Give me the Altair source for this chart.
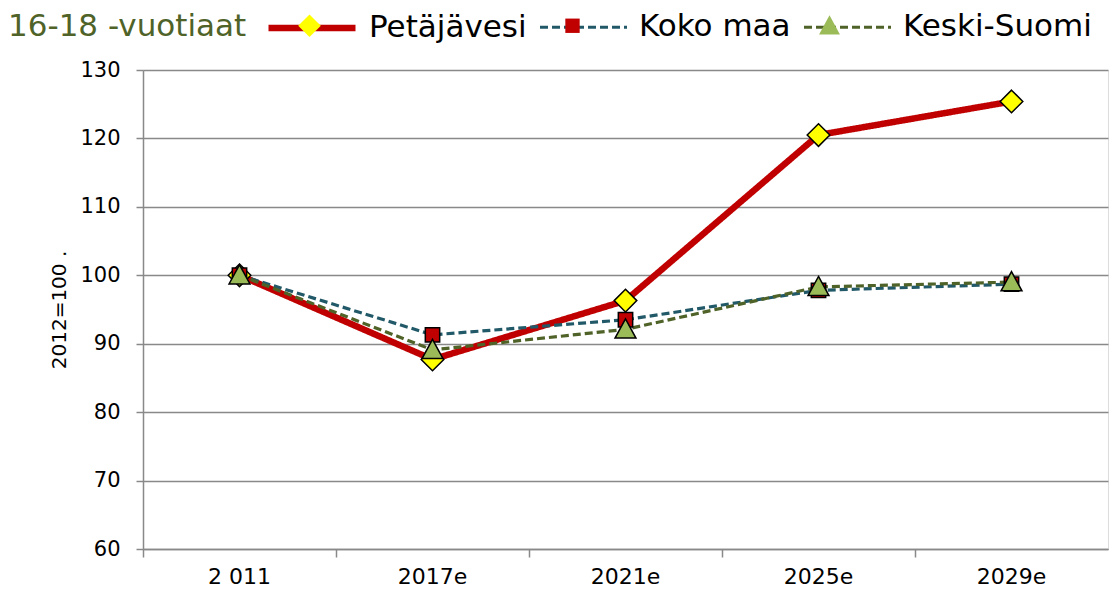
import altair as alt
import pandas as pd

# ---- data ----
vuodet = ["2 011", "2017e", "2021e", "2025e", "2029e"]
sarjat = ["Petäjävesi", "Koko maa", "Keski-Suomi"]
petajavesi = [100.0, 87.7, 96.3, 120.5, 125.4]
koko_maa = [100.0, 91.3, 93.5, 97.8, 98.7]
keski_suomi = [100.0, 89.1, 92.1, 98.3, 99.0]
y_ticks = [60, 70, 80, 90, 100, 110, 120, 130]

# ---- styles ----
viivavarit = ["#c00000", "#215968", "#4f6228", "#000000"]
taytot = ["#ffff00", "#c00000", "#9bbb59"]
viivaleveydet = [6.5, 3.2, 3.2, 1]
katkot = [[1, 0], [8, 4], [8, 4], [1, 0]]
muodot = [
    "M0,-0.26L0.26,0L0,0.26L-0.26,0Z",
    "M-0.165,-0.165L0.165,-0.165L0.165,0.165L-0.165,0.165Z",
    "M0,-0.24L0.24,0.2L-0.24,0.2Z",
]

rows = []
for s, vals in zip(sarjat, [petajavesi, koko_maa, keski_suomi]):
    for v, y in zip(vuodet, vals):
        rows.append({"vuosi": v, "sarja": s, "sarja2": s, "arvo": y})
df = pd.DataFrame(rows)

# line scales get an extra unused domain entry so that their legend stays
# separate from the marker legend (which is drawn on top of it)
viiva_domain = sarjat + ["_"]

FONT = "DejaVu Sans"
SYM = 7569
LX, LY = -135, -89

common_legend = dict(
    orient="none", legendX=LX, legendY=LY, direction="horizontal",
    title="16-18 -vuotiaat", titleOrient="left", titleAnchor="middle",
    titleBaseline="top", titleFontSize=31,
    titleFont=FONT, titleFontWeight="normal", titlePadding=18, titleLimit=600,
    labelFontSize=31, labelFont=FONT, labelOffset=10, columnPadding=6,
    labelLimit=500, symbolSize=SYM, padding=0, values=sarjat,
)

leg_line = alt.Legend(titleColor="#4f6228", labelColor="black",
                      symbolType="M-1,0H1", **common_legend)
leg_mark = alt.Legend(titleColor="rgba(0,0,0,0)", labelColor="rgba(0,0,0,0)",
                      symbolStrokeColor="black", symbolStrokeWidth=1.5,
                      **common_legend)

x_enc = alt.X(
    "vuosi:N", sort=vuodet,
    scale=alt.Scale(type="band", paddingInner=0, paddingOuter=0),
    axis=alt.Axis(title=None, labelAngle=0, bandPosition=0, grid=False,
                  tickSize=8, tickColor="#898989", domainColor="#898989",
                  domainWidth=1.5, tickWidth=1.5,
                  labelFont=FONT, labelFontSize=22, labelColor="black",
                  labelPadding=9),
)
y_enc = alt.Y(
    "arvo:Q",
    scale=alt.Scale(domain=[60, 130], nice=False, zero=False),
    axis=alt.Axis(values=y_ticks, title="2012=100   .", titleFont=FONT,
                  titleFontSize=20, titleFontWeight="normal", titleColor="black",
                  titlePadding=10, labelFont=FONT, labelFontSize=21,
                  labelColor="black", labelPadding=16, tickSize=7,
                  tickColor="#898989", tickWidth=1.5, domainColor="#898989",
                  domainWidth=1.5, gridColor="#898989", gridWidth=1.3),
)

lines = alt.Chart(df).mark_line().encode(
    x=x_enc, y=y_enc,
    color=alt.Color("sarja:N",
                    scale=alt.Scale(domain=viiva_domain, range=viivavarit),
                    legend=leg_line),
    strokeDash=alt.StrokeDash("sarja:N",
                              scale=alt.Scale(domain=viiva_domain, range=katkot),
                              legend=leg_line),
    strokeWidth=alt.StrokeWidth("sarja:N",
                                scale=alt.Scale(type="ordinal", domain=viiva_domain,
                                                range=viivaleveydet),
                                legend=leg_line),
)

points = alt.Chart(df).mark_point(filled=True, size=SYM, stroke="black",
                                  strokeWidth=1.5, opacity=1).encode(
    x=x_enc, y=y_enc,
    fill=alt.Fill("sarja2:N",
                  scale=alt.Scale(domain=sarjat, range=taytot),
                  legend=leg_mark),
    shape=alt.Shape("sarja2:N",
                    scale=alt.Scale(domain=sarjat, range=muodot),
                    legend=leg_mark),
)

chart = alt.layer(lines, points).properties(
    width=965, height=479,
    autosize=alt.AutoSizeParams(type="none"),
    padding={"left": 135, "top": 62, "right": 2, "bottom": 42},
).configure_view(stroke=None).configure(background="white")

chart.save("out.html", embed_options={"renderer": "svg", "actions": False})
